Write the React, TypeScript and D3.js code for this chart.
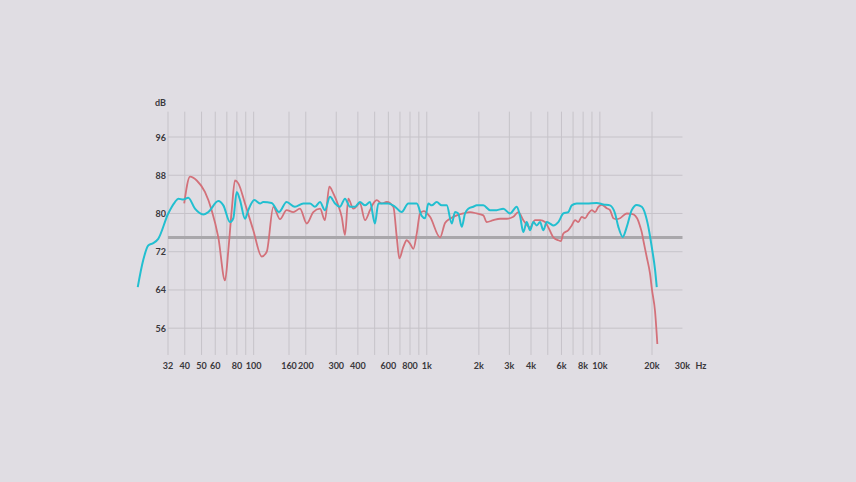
import React, { useEffect, useRef } from "react";
import * as d3 from "d3";

const W = 856;
const H = 482;

const yTicks = [56, 64, 72, 80, 88, 96];
const xTickValues = [32, 40, 50, 60, 80, 100, 160, 200, 300, 400, 600, 800, 1000, 2000, 3000, 4000, 6000, 8000, 10000, 20000, 30000];
const xTickLabels = ["32", "40", "50", "60", "80", "100", "160", "200", "300", "400", "600", "800", "1k", "2k", "3k", "4k", "6k", "8k", "10k", "20k", "30k"];
const gridFreqs = [32, 40, 50, 60, 70, 80, 90, 100, 160, 200, 300, 400, 500, 600, 700, 800, 900, 1000, 2000, 3000, 4000, 5000, 6000, 7000, 8000, 9000, 10000, 20000];
const referenceLevel = 75;

const cyanFreq = [21.4, 23.0, 24.6, 26.3, 28.1, 32.1, 35.1, 36.7, 39.2, 41.9, 45.8, 51.2, 54.7, 62.5, 66.8, 73.0, 76.3, 79.8, 83.4, 89.1, 93.1, 100.9, 108.8, 113.6, 127, 140, 155, 173, 193.5, 211.6, 226, 241.7, 258, 276, 295, 315, 337, 360, 385, 411, 440, 470, 502, 525, 561, 600, 656, 716, 782, 875, 935, 977, 1021, 1068, 1141, 1220, 1304, 1394, 1456, 1521, 1592, 1663, 1737, 1857, 1943, 2122, 2320, 2535, 2768, 3026, 3308, 3456, 3612, 3778, 3949, 4126, 4317, 4512, 4712, 4931, 5152, 5383, 5753, 6150, 6573, 6877, 7350, 8397, 9592, 10470, 11443, 12233, 12783, 13556, 14297, 15273, 16330, 17452, 18234, 19053, 19932, 20832, 21306];
const cyanDb = [64.6, 70.2, 73.3, 73.8, 74.7, 80.0, 82.4, 83.1, 82.9, 83.3, 81.0, 79.8, 80.3, 82.6, 81.7, 78.2, 79.0, 84.5, 82.8, 78.9, 80.7, 82.8, 82.1, 82.4, 82.2, 80.3, 82.4, 81.4, 82.1, 82.1, 81.4, 82.4, 80.7, 83.5, 82.1, 81.4, 83.1, 81.4, 81.4, 82.4, 81.7, 82.4, 77.9, 82.1, 82.1, 82.1, 81.4, 80.3, 82.1, 82.1, 79.5, 79.0, 82.1, 81.7, 82.4, 81.7, 81.7, 77.9, 80.3, 80.0, 77.2, 80.0, 81.0, 81.4, 81.7, 81.7, 80.7, 80.7, 81.0, 80.0, 81.4, 79.5, 76.1, 78.2, 76.5, 78.2, 77.5, 78.2, 76.5, 78.2, 77.9, 77.5, 78.2, 80.0, 80.3, 81.7, 82.1, 82.1, 82.2, 81.9, 81.7, 80.0, 77.2, 75.1, 77.2, 80.7, 81.8, 81.4, 80.0, 77.2, 73.0, 68.2, 64.6];

const redFreq = [39.7, 42.9, 46.9, 52.3, 57.2, 62.5, 68.3, 71.4, 74.7, 78, 81.5, 89.1, 99.5, 111.3, 119, 129.9, 142, 155, 169.4, 185.2, 202.5, 221, 241.7, 258, 273.5, 288.5, 308, 322.6, 337, 352, 376.5, 411, 440, 470, 491, 514, 549, 587, 641, 671, 694, 732, 766, 800, 836, 875, 914, 960, 1044, 1193, 1275, 1362, 1489, 1626, 1778, 1943, 2122, 2220, 2424, 2650, 2896, 3162, 3380, 3612, 3949, 4221, 4512, 4820, 5037, 5383, 5753, 5950, 6150, 6573, 6877, 7185, 7508, 7853, 8206, 8577, 8972, 9376, 9796, 10250, 10955, 11443, 11963, 12510, 13076, 14297, 15273, 16030, 16680, 17065, 17452, 17820, 18644, 19482, 20000, 20832, 21475];
const redDb = [82.1, 87.7, 86.9, 84.5, 80.7, 75.0, 66.0, 72.3, 80.7, 86.9, 86.3, 82.1, 76.5, 71.0, 72.0, 81.4, 78.8, 80.7, 80.3, 81.0, 77.9, 80.3, 81.0, 78.6, 85.6, 84.2, 81.7, 79.3, 75.5, 83.1, 81.0, 82.1, 78.6, 80.7, 82.1, 82.8, 82.1, 82.4, 81.4, 75.0, 70.6, 73.0, 74.4, 73.7, 72.6, 75.8, 80.0, 80.5, 79.3, 75.0, 78.0, 78.9, 79.6, 80.0, 80.3, 80.0, 79.6, 78.2, 78.6, 78.9, 78.9, 79.3, 80.3, 78.6, 77.1, 78.6, 78.6, 78.2, 77.1, 75.0, 74.4, 74.2, 75.8, 76.5, 77.5, 78.6, 78.2, 79.3, 79.0, 80.0, 80.7, 80.3, 81.4, 81.8, 81.1, 80.7, 79.0, 78.8, 79.0, 80.0, 79.9, 79.5, 78.4, 77.3, 76.1, 74.4, 70.9, 67.4, 64.0, 59.5, 52.7];

export default function App() {
  const ref = useRef<SVGSVGElement>(null);

  useEffect(() => {
    const svg = d3.select(ref.current);
    svg.selectAll("*").remove();

    const x = d3.scaleLog().domain([32, 20000]).range([168, 652]);
    const y = d3.scaleLinear().domain([56, 96]).range([328.2, 137]);

    svg.append("rect").attr("width", W).attr("height", H).attr("fill", "#e0dde3");

    const grid = svg.append("g");
    grid.selectAll("line.v")
      .data(gridFreqs)
      .join("line")
      .attr("x1", (d) => x(d)).attr("x2", (d) => x(d))
      .attr("y1", y(101.3)).attr("y2", y(50.4))
      .attr("stroke", "#c6c3c9").attr("stroke-width", 1);
    grid.selectAll("line.h")
      .data(yTicks)
      .join("line")
      .attr("x1", x(32)).attr("x2", x(30000))
      .attr("y1", (d) => y(d)).attr("y2", (d) => y(d))
      .attr("stroke", "#c6c3c9").attr("stroke-width", 1);

    svg.append("line")
      .attr("x1", x(32)).attr("x2", x(30000))
      .attr("y1", y(referenceLevel)).attr("y2", y(referenceLevel))
      .attr("stroke", "#a9a7ab").attr("stroke-width", 3);

    const font = "Lato, 'Open Sans', sans-serif";
    const labels = svg.append("g").attr("font-family", font).attr("font-size", 9).attr("font-weight", 700).attr("fill", "#3a383c");
    labels.selectAll("text.y")
      .data(yTicks)
      .join("text")
      .attr("x", 166).attr("y", (d) => y(d))
      .attr("text-anchor", "end").attr("dominant-baseline", "central")
      .text((d) => String(d));
    labels.append("text").attr("x", 166).attr("y", 102.5)
      .attr("text-anchor", "end").attr("dominant-baseline", "central").text("dB");
    labels.selectAll("text.x")
      .data(xTickValues)
      .join("text")
      .attr("x", (d) => x(d)).attr("y", 365)
      .attr("text-anchor", "middle").attr("dominant-baseline", "central")
      .text((d, i) => xTickLabels[i]);
    labels.append("text").attr("x", 701).attr("y", 365)
      .attr("text-anchor", "middle").attr("dominant-baseline", "central").text("Hz");

    const line = d3.line<[number, number]>()
      .x((d) => x(d[0])).y((d) => y(d[1]))
      .curve(d3.curveMonotoneX);

    const redPts = redFreq.map((f, i) => [f, redDb[i]] as [number, number]);
    const cyanPts = cyanFreq.map((f, i) => [f, cyanDb[i]] as [number, number]);

    svg.append("path").attr("d", line(redPts) || "")
      .attr("fill", "none").attr("stroke", "#d3717a").attr("stroke-width", 1.8)
      .attr("stroke-linejoin", "round");
    svg.append("path").attr("d", line(cyanPts) || "")
      .attr("fill", "none").attr("stroke", "#22bfd0").attr("stroke-width", 2)
      .attr("stroke-linejoin", "round");
  }, []);

  return (
    <svg ref={ref} width={W} height={H} style={{ position: "absolute", left: 0, top: 0, display: "block" }} />
  );
}
